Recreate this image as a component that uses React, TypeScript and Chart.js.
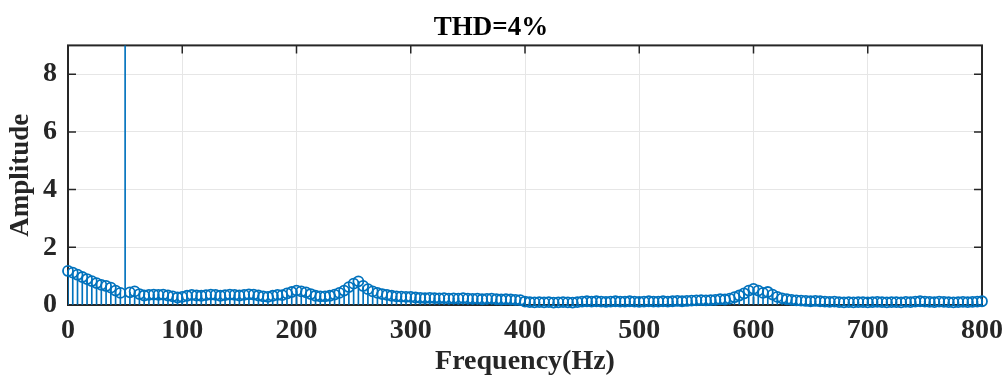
import { useEffect, useRef } from "react";
import { Chart, registerables } from "chart.js";

Chart.register(...registerables);

const chartTitle = "THD=4%";
const xAxisLabel = "Frequency(Hz)";
const yAxisLabel = "Amplitude";

const frequencyStep = 50 / 12; // Hz between spectrum bins
const xTickValues = [0, 100, 200, 300, 400, 500, 600, 700, 800];
const yTickValues = [0, 2, 4, 6, 8];
const xMin = 0;
const xMax = 800;
const yMin = 0;
const yMax = 9;

// Amplitude of each bin (bin 12 = 50 Hz fundamental, off scale)
const amplitudes = [
  1.18, 1.12, 1.05, 0.97, 0.9, 0.83, 0.76, 0.7, 0.66, 0.6, 0.5, 0.42,
  100,
  0.44, 0.47, 0.38, 0.33, 0.35, 0.36, 0.35, 0.36, 0.33, 0.3, 0.26,
  0.28, 0.32, 0.35, 0.33, 0.32, 0.34, 0.36, 0.35, 0.32, 0.34, 0.36, 0.35,
  0.33, 0.35, 0.37, 0.36, 0.33, 0.3, 0.28, 0.32, 0.35, 0.34, 0.4, 0.45,
  0.5, 0.47, 0.44, 0.38, 0.32, 0.3, 0.3, 0.32, 0.36, 0.42, 0.5, 0.62,
  0.74, 0.82, 0.66, 0.55, 0.47, 0.42, 0.38, 0.35, 0.32, 0.3, 0.29, 0.28,
  0.28,
  0.26, 0.25, 0.24, 0.25, 0.24, 0.23, 0.24, 0.22, 0.23, 0.22,
  0.24, 0.22, 0.21, 0.22, 0.2, 0.21, 0.22, 0.2, 0.19, 0.2, 0.19, 0.18, 0.17,
  0.12, 0.1, 0.09, 0.1, 0.09, 0.1, 0.08, 0.09, 0.1, 0.09, 0.08,
  0.1, 0.12, 0.13, 0.12, 0.13, 0.12, 0.11, 0.12, 0.13, 0.12,
  0.12, 0.13, 0.12, 0.11, 0.12, 0.13, 0.12, 0.12, 0.13, 0.12, 0.13, 0.14, 0.13, 0.14,
  0.15, 0.16, 0.17, 0.16, 0.17, 0.18, 0.2, 0.19, 0.22, 0.27,
  0.33, 0.4, 0.5, 0.56, 0.5, 0.42, 0.45, 0.36, 0.28, 0.23, 0.2, 0.18,
  0.16, 0.15, 0.14, 0.13, 0.14, 0.13, 0.12, 0.11, 0.12, 0.1,
  0.09, 0.1, 0.09, 0.1, 0.1, 0.09, 0.1, 0.11, 0.1, 0.09,
  0.1, 0.1, 0.09, 0.11, 0.1, 0.12, 0.13, 0.12, 0.11, 0.1,
  0.12, 0.11, 0.1, 0.09, 0.1, 0.11, 0.1, 0.11, 0.12, 0.13,
];

const frequencies = amplitudes.map((_, i) => i * frequencyStep);

const FONT = "'Liberation Serif', 'Times New Roman', serif";
const STEM_COLOR = "#0072BD";
const AXIS_COLOR = "#262626";

const boxPlugin = {
  id: "matlabBox",
  beforeDatasetsDraw(chart: any) {
    const { ctx, chartArea } = chart;
    const { left, right, top, bottom } = chartArea;
    const xs = chart.scales.x;
    const ys = chart.scales.y;
    const tl = 8;
    ctx.save();
    ctx.strokeStyle = AXIS_COLOR;
    ctx.lineWidth = 1.5;
    ctx.beginPath();
    xTickValues.forEach((v) => {
      const px = xs.getPixelForValue(v);
      ctx.moveTo(px, bottom);
      ctx.lineTo(px, bottom - tl);
      ctx.moveTo(px, top);
      ctx.lineTo(px, top + tl);
    });
    yTickValues.forEach((v) => {
      const py = ys.getPixelForValue(v);
      ctx.moveTo(left, py);
      ctx.lineTo(left + tl, py);
      ctx.moveTo(right, py);
      ctx.lineTo(right - tl, py);
    });
    ctx.stroke();
    ctx.lineWidth = 2;
    ctx.strokeRect(left, top, right - left, bottom - top);
    ctx.restore();
  },
};

export default function App() {
  const canvasRef = useRef<HTMLCanvasElement | null>(null);

  useEffect(() => {
    if (!canvasRef.current) return;
    const stemData = frequencies.map((f, i) => ({ x: f, y: amplitudes[i] }));
    const markerData = frequencies
      .map((f, i) => ({ x: f, y: amplitudes[i] }))
      .filter((p) => p.y <= yMax);

    const chart = new Chart(canvasRef.current, {
      type: "bar",
      data: {
        datasets: [
          {
            type: "bar",
            data: stemData as any,
            backgroundColor: STEM_COLOR,
            barThickness: 1,
            order: 2,
          },
          {
            type: "scatter",
            data: markerData as any,
            pointStyle: "circle",
            pointRadius: 5,
            pointBorderWidth: 1.8,
            pointBorderColor: STEM_COLOR,
            pointBackgroundColor: "rgba(0,0,0,0)",
            clip: false as any,
            order: 1,
          },
        ],
      },
      options: {
        responsive: false,
        animation: false,
        layout: { padding: { top: 0, right: 25, bottom: 0, left: 0 } },
        plugins: {
          legend: { display: false },
          tooltip: { enabled: false },
          title: {
            display: true,
            text: chartTitle,
            color: "#000",
            font: { family: FONT, size: 27, weight: "bold" },
            padding: { top: 12, bottom: 1 },
          },
        },
        scales: {
          x: {
            type: "linear",
            min: xMin,
            max: xMax,
            offset: false,
            afterBuildTicks: (s: any) => {
              s.ticks = xTickValues.map((v) => ({ value: v }));
            },
            afterFit: (s: any) => {
              s.height = 72;
              s.paddingLeft = 0;
              s.paddingRight = 0;
            },
            ticks: {
              color: AXIS_COLOR,
              font: { family: FONT, size: 28, weight: "bold" },
              padding: 9,
              maxRotation: 0,
              autoSkip: false,
            },
            grid: { color: "#e6e6e6", drawTicks: false, offset: false },
            border: { display: false },
            title: {
              display: true,
              text: xAxisLabel,
              color: AXIS_COLOR,
              font: { family: FONT, size: 28, weight: "bold" },
              padding: { top: 0, bottom: -2 },
            },
          },
          y: {
            type: "linear",
            min: yMin,
            max: yMax,
            afterBuildTicks: (s: any) => {
              s.ticks = yTickValues.map((v) => ({ value: v }));
            },
            afterFit: (s: any) => {
              s.width = 68;
            },
            ticks: {
              color: AXIS_COLOR,
              font: { family: FONT, size: 28, weight: "bold" },
              padding: 11,
            },
            grid: { color: "#e6e6e6", drawTicks: false },
            border: { display: false },
            title: {
              display: true,
              text: yAxisLabel,
              color: AXIS_COLOR,
              font: { family: FONT, size: 27, weight: "bold" },
              padding: { top: 5, bottom: 0 },
            },
          },
        },
      },
      plugins: [boxPlugin],
    });
    return () => chart.destroy();
  }, []);

  return (
    <canvas
      ref={canvasRef}
      width={1007}
      height={377}
      style={{ position: "absolute", left: 0, top: 0, width: 1007, height: 377, background: "#fff" }}
    />
  );
}
